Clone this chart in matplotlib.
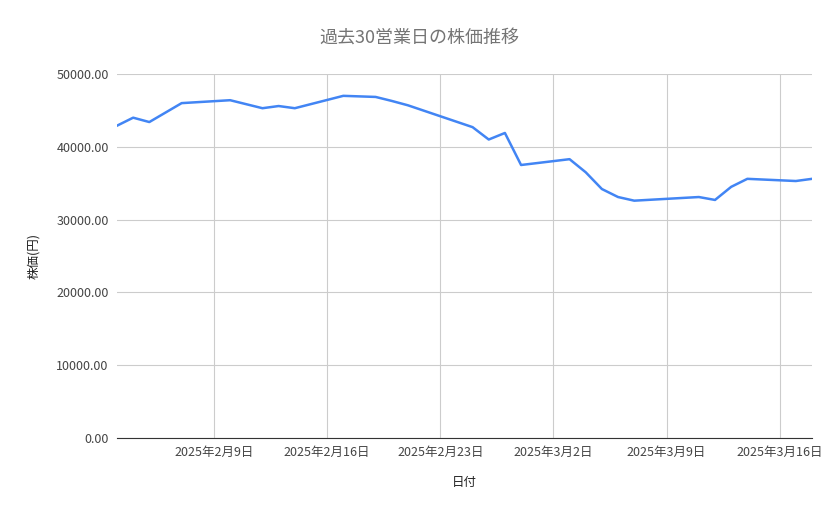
import matplotlib
matplotlib.use("Agg")
import matplotlib.pyplot as plt
import matplotlib.dates as mdates
import numpy as np

plt.rcParams["font.family"] = ["Noto Sans CJK JP", "DejaVu Sans"]

dates = np.array([
    "2025-02-03", "2025-02-04", "2025-02-05", "2025-02-07", "2025-02-10",
    "2025-02-12", "2025-02-13", "2025-02-14", "2025-02-17", "2025-02-19",
    "2025-02-20", "2025-02-21", "2025-02-25", "2025-02-26", "2025-02-27",
    "2025-02-28", "2025-03-03", "2025-03-04", "2025-03-05", "2025-03-06",
    "2025-03-07", "2025-03-11", "2025-03-12", "2025-03-13", "2025-03-14",
    "2025-03-17", "2025-03-18",
], dtype="datetime64[D]")
prices = [
    42900, 44000, 43400, 46000, 46400,
    45300, 45600, 45300, 47000, 46850,
    46300, 45700, 42700, 41000, 41900,
    37500, 38300, 36500, 34200, 33100,
    32600, 33100, 32700, 34500, 35600,
    35300, 35600,
]
tick_dates = np.array(["2025-02-09", "2025-02-16", "2025-02-23",
                       "2025-03-02", "2025-03-09", "2025-03-16"], dtype="datetime64[D]")
tick_labels = ["2025年2月9日", "2025年2月16日", "2025年2月23日",
               "2025年3月2日", "2025年3月9日", "2025年3月16日"]

fig = plt.figure(figsize=(8.39, 5.19), dpi=100)
ax = fig.add_axes([117 / 839, 1 - 438 / 519, (812 - 117) / 839, (438 - 74) / 519])
ax.plot(dates.astype("datetime64[ms]").astype(object), prices, color="#4285f4", linewidth=1.8)

ax.set_xlim(mdates.date2num(np.datetime64("2025-02-03").astype(object)),
            mdates.date2num(np.datetime64("2025-03-18").astype(object)))
ax.set_ylim(0, 50000)
ax.set_yticks(np.arange(0, 50001, 10000))
ax.set_yticklabels([f"{v:.2f}" for v in np.arange(0, 50001, 10000)])
ax.set_xticks([mdates.date2num(d.astype(object)) for d in tick_dates])
ax.set_xticklabels(tick_labels)
ax.tick_params(length=0, labelsize=9, colors="#444444", pad=6)
ax.grid(color="#cccccc", linewidth=0.8)
ax.set_axisbelow(True)
for s in ["top", "right", "left"]:
    ax.spines[s].set_visible(False)
ax.spines["bottom"].set_color("#333333")

ax.set_xlabel("日付", fontsize=9, color="#222222", labelpad=12)
ax.set_ylabel("株価(円)", fontsize=9, color="#222222", labelpad=12)
fig.text(0.5, 1 - 38 / 519, "過去30営業日の株価推移", ha="center", va="center",
         fontsize=13, color="#757575")

fig.savefig("out.png", dpi=100, facecolor="white")
